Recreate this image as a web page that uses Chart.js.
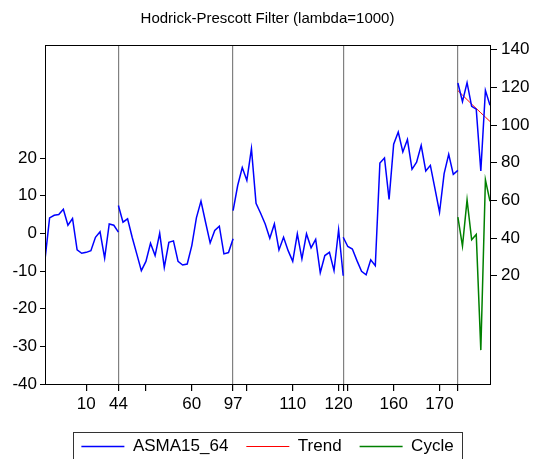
<!DOCTYPE html>
<html>
<head>
<meta charset="utf-8">
<script src="https://cdn.jsdelivr.net/npm/chart.js@4.4.1/dist/chart.umd.min.js"></script>
<style>
  html, body { margin: 0; padding: 0; background: #fff; }
  #wrap { width: 535px; height: 459px; overflow: hidden; }
</style>
</head>
<body>
<div id="wrap"><canvas id="hpChart" width="535" height="465"></canvas></div>
<script>
// ASMA15_64, one array per panel block (observations are consecutive)
const asmaBlock1 = [28.5, 50.7, 52.1, 52.5, 55.3, 46.8, 50.4, 33.7, 31.9, 32.4, 33.3, 40.4, 43.3, 29.4, 47.5, 46.8, 43.1];
const asmaBlock2 = [57.3, 48.4, 50.2, 40.4, 31.6, 22.7, 27.6, 37.2, 30.7, 42.5, 24.4, 37.7, 38.5, 27.6, 25.7, 26.2, 36.0, 50.7, 59.6, 48.4, 37.4, 44.0, 46.3, 31.6, 32.3, 39.6];
const asmaBlock3 = [54.6, 67.9, 77.4, 70.6, 87.5, 58.5, 53.2, 47.5, 39.9, 47.5, 33.7, 40.4, 33.3, 27.6, 42.2, 28.9, 42.2, 34.8, 39.3, 21.6, 30.7, 32.4, 22.7, 44.4, 20.0];
const asmaBlock4 = [40.4, 35.5, 34.2, 28.0, 22.3, 20.5, 28.4, 25.3, 79.8, 82.5, 60.5, 89.8, 96.3, 85.7, 92.3, 76.5, 80.3, 89.2, 75.6, 78.6, 66.2, 53.7, 74.2, 84.5, 73.8, 75.9];
const asmaBlock5 = [122.3, 112.4, 122.5, 109.9, 108.4, 75.6, 118.4, 110.5];

// HP trend and cycle, only for the last block
const trendBlock5 = [118.3, 115.9, 113.5, 111.1, 108.8, 106.5, 104.2, 101.9];
const cycleBlock5 = [4.3, -3.4, 8.9, -1.7, -0.3, -31.0, 14.2, 8.5];

// block start observation (blocks share their boundary observation)
const blockStarts = [0, 16, 41, 65, 90];

// x axis ticks (observation position + label)
const xTickObs = [9, 16, 22, 32, 41, 44, 54, 64, 65, 66, 76, 86, 90];
const xTickLabels = ['10', '44', '', '60', '97', '', '110', '120', '', '', '160', '170', ''];
const separatorObs = [16, 41, 65, 90];

const leftTicks = [-40, -30, -20, -10, 0, 10, 20];
const rightTicks = [20, 40, 60, 80, 100, 120, 140];

Chart.defaults.font.family = 'Arial, "Liberation Sans", sans-serif';
Chart.defaults.color = '#000';

// turn blocks into {x, y} points with a break between blocks
function buildSeries(blocks, starts) {
    const pts = [];
    blocks.forEach((vals, b) => {
        vals.forEach((v, k) => pts.push({ x: starts[b] + k, y: v }));
        pts.push({ x: starts[b] + vals.length - 1, y: null });
    });
    return pts;
}

const asmaData = buildSeries([asmaBlock1, asmaBlock2, asmaBlock3, asmaBlock4, asmaBlock5], blockStarts);
const trendData = buildSeries([trendBlock5], [blockStarts[4]]);
const cycleData = buildSeries([cycleBlock5], [blockStarts[4]]);

// frame around plot + box around legend
const framePlugin = {
    id: 'frame',
    afterDraw(chart) {
        const ctx = chart.ctx;
        const a = chart.chartArea;
        ctx.save();
        ctx.strokeStyle = '#000';
        ctx.lineWidth = 1;
        ctx.strokeRect(a.left + 0.5, a.top + 0.5, a.right - a.left, a.bottom - a.top);

        const hb = chart.legend.legendHitBoxes;
        if (hb && hb.length) {
            const first = hb[0];
            const last = hb[hb.length - 1];
            const left = Math.round(first.left - 8) + 0.5;
            const right = Math.round(last.left + last.width + 8) + 0.5;
            const top = Math.round(first.top + first.height / 2 - 15) + 0.5;
            ctx.strokeStyle = '#333';
            ctx.strokeRect(left, top, right - left, chart.height + 10 - top);
        }
        ctx.restore();
    }
};

const ctx = document.getElementById('hpChart').getContext('2d');
new Chart(ctx, {
    type: 'line',
    data: {
        datasets: [
            {
                label: 'ASMA15_64',
                data: asmaData,
                yAxisID: 'y1',
                borderColor: 'rgb(0, 0, 255)',
                backgroundColor: 'rgb(0, 0, 255)',
                borderWidth: 1.5,
                pointRadius: 0,
                tension: 0,
                spanGaps: false
            },
            {
                label: 'Trend',
                data: trendData,
                yAxisID: 'y1',
                borderColor: 'rgb(255, 0, 0)',
                backgroundColor: 'rgb(255, 0, 0)',
                borderWidth: 1,
                pointRadius: 0,
                tension: 0
            },
            {
                label: 'Cycle',
                data: cycleData,
                yAxisID: 'y',
                borderColor: 'rgb(0, 128, 0)',
                backgroundColor: 'rgb(0, 128, 0)',
                borderWidth: 1.5,
                pointRadius: 0,
                tension: 0
            }
        ]
    },
    options: {
        responsive: false,
        animation: false,
        layout: { padding: 0 },
        plugins: {
            title: {
                display: true,
                text: 'Hodrick-Prescott Filter (lambda=1000)',
                color: '#000',
                font: { size: 15, weight: 'normal' },
                padding: { top: 10, bottom: 17 }
            },
            legend: {
                position: 'bottom',
                labels: {
                    usePointStyle: true,
                    pointStyle: 'line',
                    pointStyleWidth: 43,
                    padding: 18,
                    color: '#000',
                    font: { size: 17 }
                }
            },
            tooltip: { enabled: false }
        },
        scales: {
            x: {
                type: 'linear',
                min: 0,
                max: 97,
                afterBuildTicks: function(scale) {
                    scale.ticks = xTickObs.map(v => ({ value: v }));
                },
                afterFit: function(scale) {
                    scale.height = 36;
                },
                ticks: {
                    autoSkip: false,
                    maxRotation: 0,
                    padding: 3,
                    font: { size: 17 },
                    callback: function(value) {
                        const i = xTickObs.indexOf(value);
                        return i >= 0 ? xTickLabels[i] : '';
                    }
                },
                grid: {
                    color: function(c) {
                        return c.tick && separatorObs.includes(c.tick.value) ? 'rgb(128, 128, 128)' : 'rgba(0,0,0,0)';
                    },
                    tickColor: '#000',
                    tickLength: 7,
                    lineWidth: 1.2
                },
                border: { color: '#000', width: 1 }
            },
            y: {
                position: 'left',
                min: -40,
                max: 50,
                afterBuildTicks: function(scale) {
                    scale.ticks = leftTicks.map(v => ({ value: v }));
                },
                afterFit: function(scale) {
                    scale.width = 45;
                },
                ticks: { padding: 3, font: { size: 17 } },
                grid: { drawOnChartArea: false, tickColor: '#000', tickLength: 5 },
                border: { color: '#000', width: 1 }
            },
            y1: {
                position: 'right',
                min: -37.5,
                max: 142.5,
                afterBuildTicks: function(scale) {
                    scale.ticks = rightTicks.map(v => ({ value: v }));
                },
                afterFit: function(scale) {
                    scale.width = 45;
                },
                ticks: { padding: 4, font: { size: 17 } },
                grid: { drawOnChartArea: false, tickColor: '#000', tickLength: 7 },
                border: { color: '#000', width: 1 }
            }
        }
    },
    plugins: [framePlugin]
});
</script>
</body>
</html>
